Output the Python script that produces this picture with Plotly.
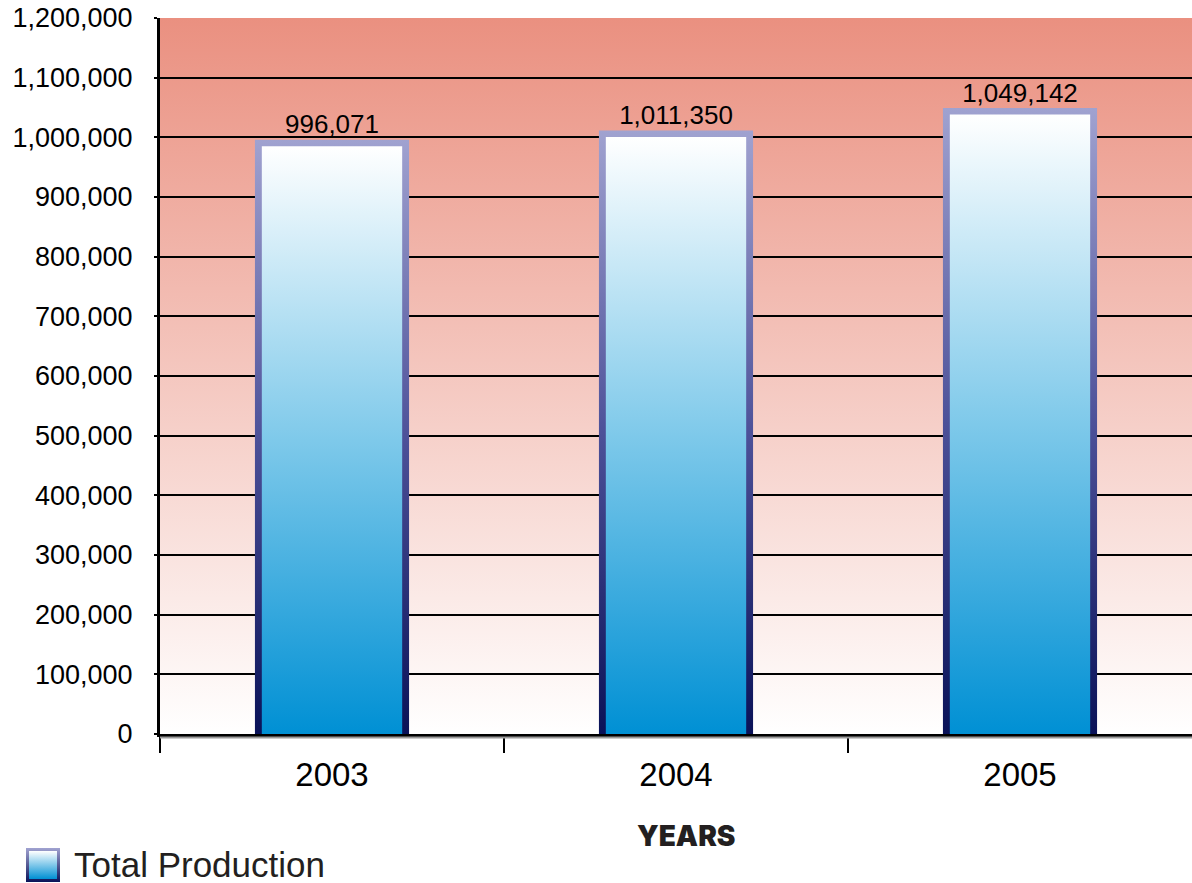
import base64
import plotly.graph_objects as go

# ---- data ----
years = ["2003", "2004", "2005"]
production = [996071, 1011350, 1049142]
y_tick_values = list(range(0, 1200001, 100000))
series_name = "Total Production"
x_title = "YEARS"

# ---- styling constants ----
Y_MAX = 1200000
OUTER_HALF = 0.224
INNER_HALF = 0.204
TOP_BORDER = 11000
FONT = "Liberation Sans, Arial, Helvetica, sans-serif"


def svg_uri(svg):
    return "data:image/svg+xml;base64," + base64.b64encode(svg.encode()).decode()


bg_svg = (
    '<svg xmlns="http://www.w3.org/2000/svg" width="100" height="100" preserveAspectRatio="none">'
    '<defs><linearGradient id="g" x1="0" y1="0" x2="0" y2="1">'
    '<stop offset="0" stop-color="#EA9080"/><stop offset="1" stop-color="#FFFFFF"/>'
    '</linearGradient></defs><rect width="100" height="100" fill="url(#g)"/></svg>'
)
icon_svg = (
    '<svg xmlns="http://www.w3.org/2000/svg" width="34" height="34" preserveAspectRatio="none">'
    '<defs><linearGradient id="b" x1="0" y1="0" x2="0" y2="1">'
    '<stop offset="0" stop-color="#A0A2D0"/><stop offset="1" stop-color="#0A1258"/></linearGradient>'
    '<linearGradient id="f" x1="0" y1="0" x2="0" y2="1">'
    '<stop offset="0" stop-color="#FFFFFF"/><stop offset="1" stop-color="#0090D4"/></linearGradient></defs>'
    '<rect width="34" height="34" fill="url(#b)"/><rect x="3" y="3" width="28" height="28" fill="url(#f)"/></svg>'
)

fig = go.Figure()

for i, v in enumerate(production):
    # border (outer rectangle)
    fig.add_trace(go.Scatter(
        x=[i - OUTER_HALF, i + OUTER_HALF, i + OUTER_HALF, i - OUTER_HALF, i - OUTER_HALF],
        y=[0, 0, v, v, 0],
        mode="lines", line=dict(width=0), fill="toself",
        fillgradient=dict(type="vertical",
                          colorscale=[[0, "#0A1258"], [0.5, "#4D5199"], [1, "#A0A2D0"]]),
        hoverinfo="skip", showlegend=False,
    ))
    # fill (inner rectangle)
    top = v - TOP_BORDER
    fig.add_trace(go.Scatter(
        x=[i - INNER_HALF, i + INNER_HALF, i + INNER_HALF, i - INNER_HALF, i - INNER_HALF],
        y=[0, 0, top, top, 0],
        mode="lines", line=dict(width=0), fill="toself",
        fillgradient=dict(type="vertical",
                          colorscale=[[0, "#0090D4"], [0.5, "#7EC9EA"], [1, "#FFFFFF"]]),
        name=series_name, hoverinfo="skip", showlegend=False,
    ))

# value labels
fig.add_trace(go.Scatter(
    x=list(range(len(years))), y=production, mode="text",
    text=[f"{v:,}" for v in production], textposition="top center",
    textfont=dict(family=FONT, size=26, color="black"),
    hoverinfo="skip", showlegend=False,
))

fig.update_layout(
    width=1192, height=883,
    margin=dict(l=160, r=0, t=18, b=149),
    paper_bgcolor="white", plot_bgcolor="rgba(0,0,0,0)",
    showlegend=False,
    font=dict(family=FONT, color="black"),
    xaxis=dict(
        range=[-0.5, 2.5], tickvals=list(range(len(years))), ticktext=years,
        ticks="", showgrid=False, zeroline=False,
        showline=True, linecolor="black", linewidth=3,
        tickfont=dict(family=FONT, size=33, color="black"),
        ticklabelstandoff=9,
        minor=dict(tickvals=[-0.5, 0.5, 1.5], ticks="outside", ticklen=16,
                   tickwidth=2, tickcolor="black", showgrid=False),
    ),
    yaxis=dict(
        range=[0, Y_MAX], tickvals=y_tick_values, tickformat=",",
        showgrid=True, gridcolor="black", gridwidth=2, zeroline=False,
        showline=True, linecolor="black", linewidth=3,
        ticks="outside", ticklen=3, tickcolor="black", tickwidth=2,
        tickfont=dict(family=FONT, size=27, color="black"),
        ticklabelstandoff=16,
    ),
    images=[
        dict(source=svg_uri(bg_svg), xref="paper", yref="paper", x=0, y=1,
             sizex=1, sizey=1, sizing="stretch", xanchor="left", yanchor="top",
             layer="below"),
        dict(source=svg_uri(icon_svg), xref="paper", yref="paper",
             x=(26 - 160) / 1032, y=(734 - 848) / 716,
             sizex=34 / 1032, sizey=34 / 716, sizing="stretch",
             xanchor="left", yanchor="top", layer="above"),
    ],
    annotations=[
        dict(text=x_title, xref="paper", yref="paper", x=(686 - 160) / 1032,
             y=(734 - 836) / 716, showarrow=False, xanchor="center", yanchor="middle",
             font=dict(family="Inter, Roboto, Liberation Sans, sans-serif", size=28,
                       weight=900, color="#231F20")),
        dict(text=series_name, xref="paper", yref="paper", x=(72 - 160) / 1032,
             y=(734 - 864) / 716, showarrow=False, xanchor="left", yanchor="middle",
             font=dict(family=FONT, size=35, color="#231F20")),
    ],
    shapes=[
        dict(type="line", xref="paper", yref="paper", x0=0, x1=1,
             y0=-3.5 / 716, y1=-3.5 / 716, line=dict(color="#9A9A9A", width=2)),
    ],
)

fig.write_html("out.html")
